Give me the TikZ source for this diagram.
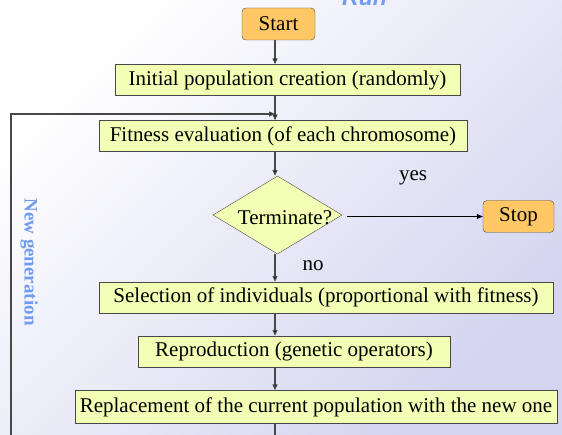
\documentclass[tikz,border=0pt]{standalone}
\usepackage{fontspec}
\setmainfont{Liberation Serif}
\newfontfamily\runfont{Liberation Sans}
\usetikzlibrary{shapes.geometric,arrows.meta}

\definecolor{boxfill}{RGB}{243,255,180}
\definecolor{endfill}{RGB}{255,200,100}
\definecolor{genblue}{RGB}{112,156,240}
\definecolor{bglav}{RGB}{212,212,240}
\definecolor{edgegray}{RGB}{72,72,72}

\tikzset{
  stepbox/.style={draw=edgegray, fill=boxfill, minimum height=31pt, inner sep=1pt,
    font=\fontsize{21}{25}\selectfont},
  endbox/.style={draw=edgegray, fill=endfill, rounded corners=4pt, minimum height=32pt,
    inner sep=1pt, font=\fontsize{21}{25}\selectfont},
  decide/.style={diamond, draw=edgegray, fill=boxfill, inner sep=0pt,
    minimum width=129pt, minimum height=78pt},
  flow/.style={draw=edgegray, line width=1.2pt, -{Triangle[length=6pt,width=5pt,fill=black]}},
  word/.style={font=\fontsize{21}{25}\selectfont}
}

\begin{document}
\begin{tikzpicture}[x=1pt, y=-1pt]
\useasboundingbox (0,0) rectangle (562,435);
\shade[top color=white, bottom color=bglav, shading angle=45] (0,0) rectangle (562,435);
\clip (0,0) rectangle (562,435);

\coordinate (spine) at (275,0);
\coordinate (join) at (275,114);
\coordinate (loopbot) at (11,460);

\node[endbox, minimum width=73pt] (start) at (278.5,24) {Start};
\node[stepbox, minimum width=345pt] (init) at (287.5,80) {Initial population creation (randomly)};
\node[stepbox, minimum width=368pt] (fit) at (283,136) {Fitness evaluation (of each chromosome)};
\node[decide] (term) at (277.5,215) {};
\node[word] (termtext) at (285,218) {Terminate?};
\node[endbox, minimum width=71pt] (stop) at (518.5,216.5) {Stop};
\node[stepbox, minimum width=454pt] (sel) at (326,297.5) {Selection of individuals (proportional with fitness)};
\node[stepbox, minimum width=312pt] (rep) at (294,351.5) {Reproduction (genetic operators)};
\node[stepbox, minimum width=482pt, minimum height=33pt] (repl) at (316,407) {Replacement of the current population with the new one};

\node[word] (yes) at (413,178) {yes};
\node[word] (no) at (313,266) {no};
\node[font=\fontsize{19}{22}\selectfont\bfseries, text=genblue, rotate=-90] (newgen) at (29,262) {New generation};
\node[font=\runfont\fontsize{23}{26}\selectfont\bfseries\itshape, text=genblue, anchor=base] (run) at (364.5,6) {Run};

\draw[flow] (start.south -| spine) -- (init.north -| spine);
\draw[flow] (init.south -| spine) -- (fit.north -| spine);
\draw[flow] (fit.south -| spine) -- (term.north -| spine);
\draw[flow, line width=0.8pt, draw=black] ([xshift=5pt]stop.west -| term.east) -- (stop.west);
\draw[flow] (term.south -| spine) -- (sel.north -| spine);
\draw[flow] (sel.south -| spine) -- (rep.north -| spine);
\draw[flow] (rep.south -| spine) -- (repl.north -| spine);
\draw[flow] (repl.south -| spine) |- (loopbot) |- (join);
\end{tikzpicture}
\end{document}
